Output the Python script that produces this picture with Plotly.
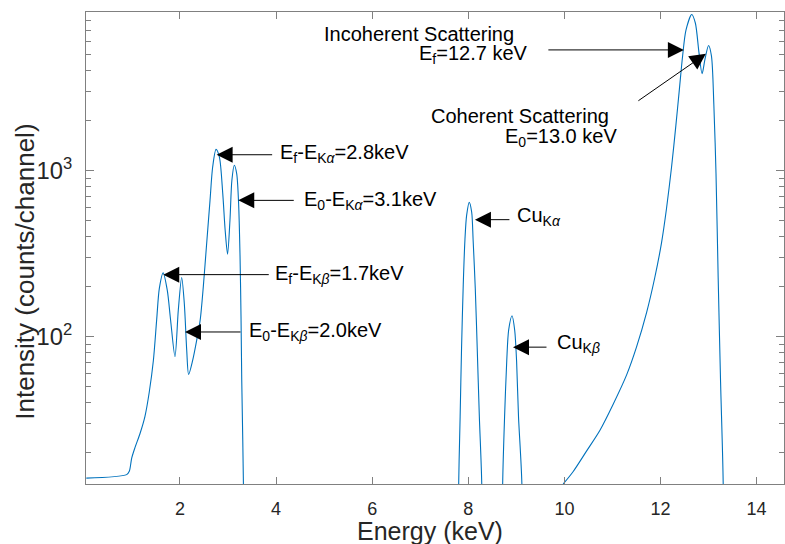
import math
import plotly.graph_objects as go

# ---- spectrum data (energy in keV, intensity in counts/channel) ----
# Compton/Rayleigh-shifted K lines of the sample (low-energy region)
sample_energy = [0.05, 0.89, 0.945, 0.995, 1.063, 1.167, 1.27, 1.36, 1.445, 1.515, 1.57,
                 1.65, 1.735, 1.805, 1.896, 1.965, 2.035, 2.09, 2.14, 2.18, 2.265, 2.348,
                 2.42, 2.485, 2.555, 2.625, 2.68, 2.75, 2.82, 2.89, 2.94, 2.99, 3.04, 3.08,
                 3.13, 3.18, 3.22, 3.25, 3.27, 3.285, 3.32, 3.34]
sample_counts = [14.1, 14.8, 15.5, 18.6, 21.5, 26.1, 33.1, 46.4, 71.5, 127, 196,
                 243, 191, 126, 76, 145, 228, 159, 83, 59.4, 72.4, 95.5,
                 126, 200, 365, 664, 1054, 1346, 1211, 729, 439, 315, 504, 877,
                 1080, 962, 635, 303, 132, 55, 13, 1]

# Cu K-alpha fluorescence line
cu_ka_energy = [7.78, 7.80, 7.83, 7.86, 7.895, 7.93, 7.965, 8.02, 8.07, 8.10, 8.145,
                8.185, 8.23, 8.28, 8.30]
cu_ka_counts = [1, 13, 33, 86.7, 206, 385, 539, 646, 565, 385, 196,
                86.7, 33, 13, 1]

# Cu K-beta fluorescence line
cu_kb_energy = [8.69, 8.715, 8.755, 8.80, 8.84, 8.91, 8.965, 9.005, 9.045, 9.115, 9.13]
cu_kb_counts = [1, 13, 33, 71.5, 110, 134, 110, 71.5, 33, 13, 1]

# Incoherent (Compton) and coherent (Rayleigh) scattering of the source
scatter_energy = [9.975, 10.18, 10.46, 10.74, 11.015, 11.295, 11.50, 11.71, 11.88, 12.02,
                  12.125, 12.23, 12.32, 12.39, 12.46, 12.53, 12.65, 12.725, 12.80, 12.865,
                  12.925, 13.0, 13.06, 13.11, 13.155, 13.20, 13.25, 13.305, 13.32]
scatter_counts = [13, 15.4, 20.5, 27.4, 39.3, 59, 86.7, 140, 227, 367,
                  593, 1055, 1879, 3041, 4920, 7050, 8750, 7770, 5170, 3845,
                  4690, 5690, 4920, 2510, 959, 227, 53.6, 13, 1]

x_tick_values = [2, 4, 6, 8, 10, 12, 14]

label_texts = [
    "E<sub>f</sub>-E<sub>K<i>α</i></sub>=2.8keV",
    "E<sub>0</sub>-E<sub>K<i>α</i></sub>=3.1keV",
    "E<sub>f</sub>-E<sub>K<i>β</i></sub>=1.7keV",
    "E<sub>0</sub>-E<sub>K<i>β</i></sub>=2.0keV",
    "Cu<sub>K<i>α</i></sub>",
    "Cu<sub>K<i>β</i></sub>",
    "Incoherent Scattering",
    "E<sub>f</sub>=12.7 keV",
    "Coherent Scattering",
    "E<sub>0</sub>=13.0 keV",
]

FONT = "Liberation Sans, Arial, Helvetica, sans-serif"
LINE_BLUE = "#0072BD"
AXIS_GREY = "#808080"
TEXT_DARK = "#262626"

fig = go.Figure()
for xs, ys in [(sample_energy, sample_counts), (cu_ka_energy, cu_ka_counts),
               (cu_kb_energy, cu_kb_counts), (scatter_energy, scatter_counts)]:
    fig.add_trace(go.Scatter(
        x=xs, y=ys, mode="lines",
        line=dict(color=LINE_BLUE, width=1.1, shape="spline", smoothing=0.8),
        showlegend=False, hoverinfo="skip",
    ))

annotations = []

# arrows: head at (energy, counts), tail offset in pixels
arrows = [
    (2.763, 1250, 57, 0),
    (3.213, 664, 57, 0),
    (1.652, 237, 107, 0),
    (2.104, 107, 57, 0),
    (8.138, 508, 36, 0),
    (8.93, 86.7, 35, 0),
    (12.486, 5350, -137, 0),
    (12.944, 5070, -69, 48),
]
for hx, hy, ax, ay in arrows:
    annotations.append(dict(
        x=hx, y=math.log10(hy), xref="x", yref="y",
        ax=ax, ay=ay, axref="pixel", ayref="pixel",
        text="", showarrow=True, arrowhead=2, arrowsize=3.2, arrowwidth=1,
        arrowcolor="black", standoff=0, startstandoff=0,
    ))

# text labels (paper coordinates, left aligned)
label_positions = [
    (0.2755, 0.6999), (0.3090, 0.6011), (0.2675, 0.4444), (0.2302, 0.3223),
    (0.6146, 0.5672), (0.6719, 0.2974),
    (0.3377, 0.9524), (0.4746, 0.9090), (0.4918, 0.7803), (0.5978, 0.7344),
]
for txt, (px, py) in zip(label_texts, label_positions):
    annotations.append(dict(
        x=px, y=py, xref="paper", yref="paper", text=txt, showarrow=False,
        xanchor="left", yanchor="middle",
        font=dict(family=FONT, size=20, color="black"),
    ))

# axis titles
annotations.append(dict(
    x=0.4928, y=-0.1000, xref="paper", yref="paper", text="Energy (keV)",
    showarrow=False, xanchor="center", yanchor="middle",
    font=dict(family=FONT, size=25, color=TEXT_DARK),
))
annotations.append(dict(
    x=-0.0874, y=0.4497, xref="paper", yref="paper", text="Intensity (counts/channel)",
    showarrow=False, xanchor="center", yanchor="middle", textangle=-90,
    font=dict(family=FONT, size=26, color=TEXT_DARK),
))

fig.update_layout(
    width=785, height=544,
    margin=dict(l=86, r=1, t=11.5, b=60),
    paper_bgcolor="white", plot_bgcolor="white",
    font=dict(family=FONT, color=TEXT_DARK),
    annotations=annotations,
    xaxis=dict(
        range=[0.044, 14.57], tickvals=x_tick_values,
        ticks="inside", ticklen=7, tickwidth=1, tickcolor=AXIS_GREY,
        showline=True, linecolor=AXIS_GREY, linewidth=1, mirror="ticks",
        showgrid=False, zeroline=False,
        tickfont=dict(family=FONT, size=18, color=TEXT_DARK),
        ticklabelstandoff=8,
    ),
    yaxis=dict(
        type="log", range=[1.1137, 3.9567], dtick=1, exponentformat="power",
        ticks="inside", ticklen=8, tickwidth=1, tickcolor=AXIS_GREY,
        showline=True, linecolor=AXIS_GREY, linewidth=1, mirror="ticks",
        showgrid=False, zeroline=False,
        minor=dict(ticks="inside", ticklen=5, tickwidth=1, tickcolor=AXIS_GREY,
                   dtick="D1", showgrid=False),
        tickfont=dict(family=FONT, size=19, color=TEXT_DARK),
        ticklabelstandoff=9,
    ),
)

fig.write_html("out.html")
